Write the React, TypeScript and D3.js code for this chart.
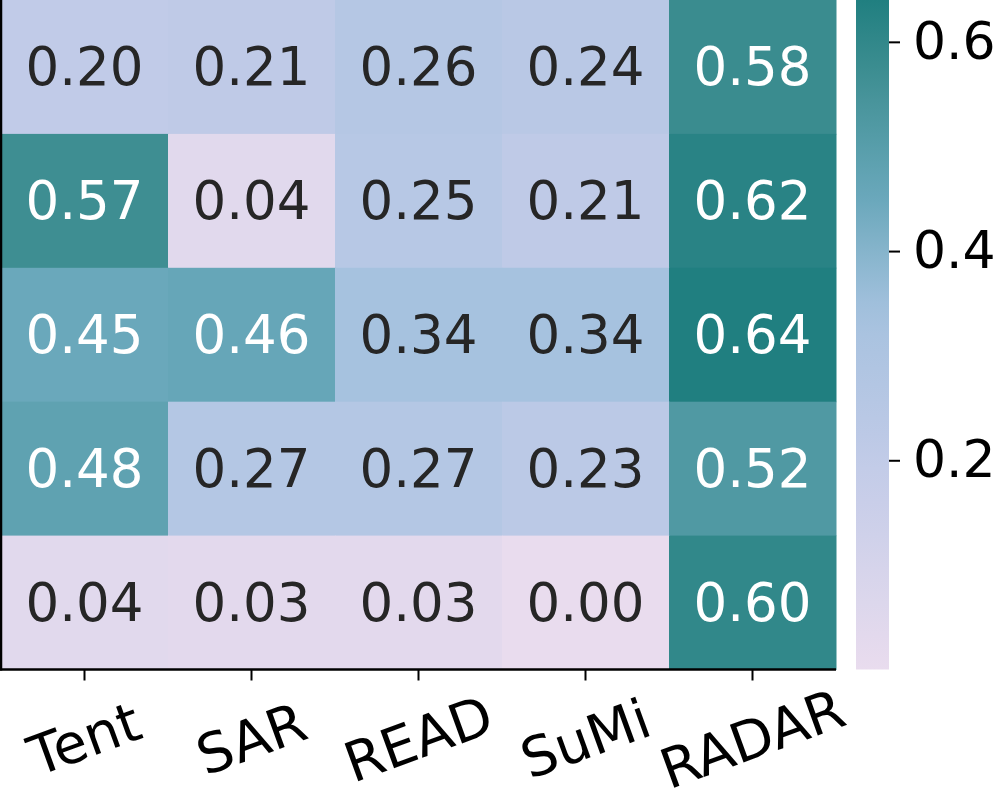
import React, { useRef, useEffect } from 'react';
import * as d3 from 'd3';

const methods = ['Tent', 'SAR', 'READ', 'SuMi', 'RADAR'];
const row1 = [0.20, 0.21, 0.26, 0.24, 0.58];
const row2 = [0.57, 0.04, 0.25, 0.21, 0.62];
const row3 = [0.45, 0.46, 0.34, 0.34, 0.64];
const row4 = [0.48, 0.27, 0.27, 0.23, 0.52];
const row5 = [0.04, 0.03, 0.03, 0.00, 0.60];
const rows = [row1, row2, row3, row4, row5];
const cbarTicks = [0.2, 0.4, 0.6];

// colormap stops
const cmapStops = [0, 0.2, 0.34, 0.45, 0.57, 0.64];
const cmapColors = ['#e9dcee', '#c1cbe8', '#a6c2df', '#6aa8bb', '#3e8e92', '#207f80'];

export default function App() {
  const ref = useRef<SVGSVGElement>(null);

  useEffect(() => {
    const width = 997;
    const height = 805;
    const left = 1, right = 836, top = 0, bottom = 669.5;
    const vmin = 0, vmax = 0.64;
    const font = 'DejaVu Sans, sans-serif';

    const svg = d3.select(ref.current);
    svg.selectAll('*').remove();
    svg.attr('width', width).attr('height', height);

    const color = d3.scaleLinear<string>()
      .domain(cmapStops)
      .range(cmapColors)
      .interpolate(d3.interpolateRgb)
      .clamp(true);

    const x = d3.scaleBand().domain(methods).range([left, right]).padding(0);
    const y = d3.scaleBand().domain(rows.map((_, i) => String(i))).range([top, bottom]).padding(0);

    const cells = svg.append('g');
    rows.forEach((row, ri) => {
      row.forEach((v, ci) => {
        const cx = x(methods[ci])!;
        const cy = y(String(ri))!;
        cells.append('rect')
          .attr('x', cx).attr('y', cy)
          .attr('width', x.bandwidth() + 0.5).attr('height', y.bandwidth() + 0.5)
          .attr('fill', color(v));
        cells.append('text')
          .attr('x', cx + x.bandwidth() / 2)
          .attr('y', cy + y.bandwidth() / 2)
          .attr('text-anchor', 'middle')
          .attr('dominant-baseline', 'central')
          .attr('font-family', font)
          .attr('font-size', 53)
          .attr('fill', v > 0.4 ? '#ffffff' : '#262626')
          .text(v.toFixed(2));
      });
    });

    // spines
    svg.append('line')
      .attr('x1', left).attr('x2', left).attr('y1', top).attr('y2', bottom + 1)
      .attr('stroke', '#000').attr('stroke-width', 2.5);
    svg.append('line')
      .attr('x1', left - 1).attr('x2', right).attr('y1', bottom).attr('y2', bottom)
      .attr('stroke', '#000').attr('stroke-width', 2.5);

    // x ticks and labels
    const xg = svg.append('g');
    methods.forEach(m => {
      const cx = x(m)! + x.bandwidth() / 2;
      xg.append('line')
        .attr('x1', cx).attr('x2', cx).attr('y1', bottom).attr('y2', bottom + 11)
        .attr('stroke', '#000').attr('stroke-width', 2);
      xg.append('text')
        .attr('transform', `translate(${cx},${739}) rotate(-20)`)
        .attr('text-anchor', 'middle')
        .attr('dominant-baseline', 'central')
        .attr('font-family', font)
        .attr('font-size', 55)
        .attr('fill', '#000')
        .text(m);
    });

    // colorbar
    const cbX = 856, cbW = 33;
    const cy = d3.scaleLinear().domain([vmin, vmax]).range([bottom, top]);
    const defs = svg.append('defs');
    const grad = defs.append('linearGradient')
      .attr('id', 'cbar').attr('x1', 0).attr('x2', 0).attr('y1', 1).attr('y2', 0);
    d3.range(0, 1.0001, 0.05).forEach(t => {
      grad.append('stop')
        .attr('offset', t)
        .attr('stop-color', color(vmin + t * (vmax - vmin)));
    });
    svg.append('rect')
      .attr('x', cbX).attr('y', top).attr('width', cbW).attr('height', bottom - top)
      .attr('fill', 'url(#cbar)');

    const cbAxis = d3.axisRight(cy).tickValues(cbarTicks).tickSize(11).tickPadding(13)
      .tickFormat(d3.format('.1f'));
    const ag = svg.append('g')
      .attr('transform', `translate(${cbX + cbW},0)`)
      .call(cbAxis);
    ag.select('.domain').remove();
    ag.selectAll('.tick line').attr('stroke', '#000').attr('stroke-width', 2);
    ag.selectAll('.tick text')
      .attr('font-family', font)
      .attr('font-size', 52)
      .attr('fill', '#000');
  }, []);

  return (
    <div style={{ position: 'absolute', left: 0, top: 0 }}>
      <svg ref={ref} />
    </div>
  );
}
